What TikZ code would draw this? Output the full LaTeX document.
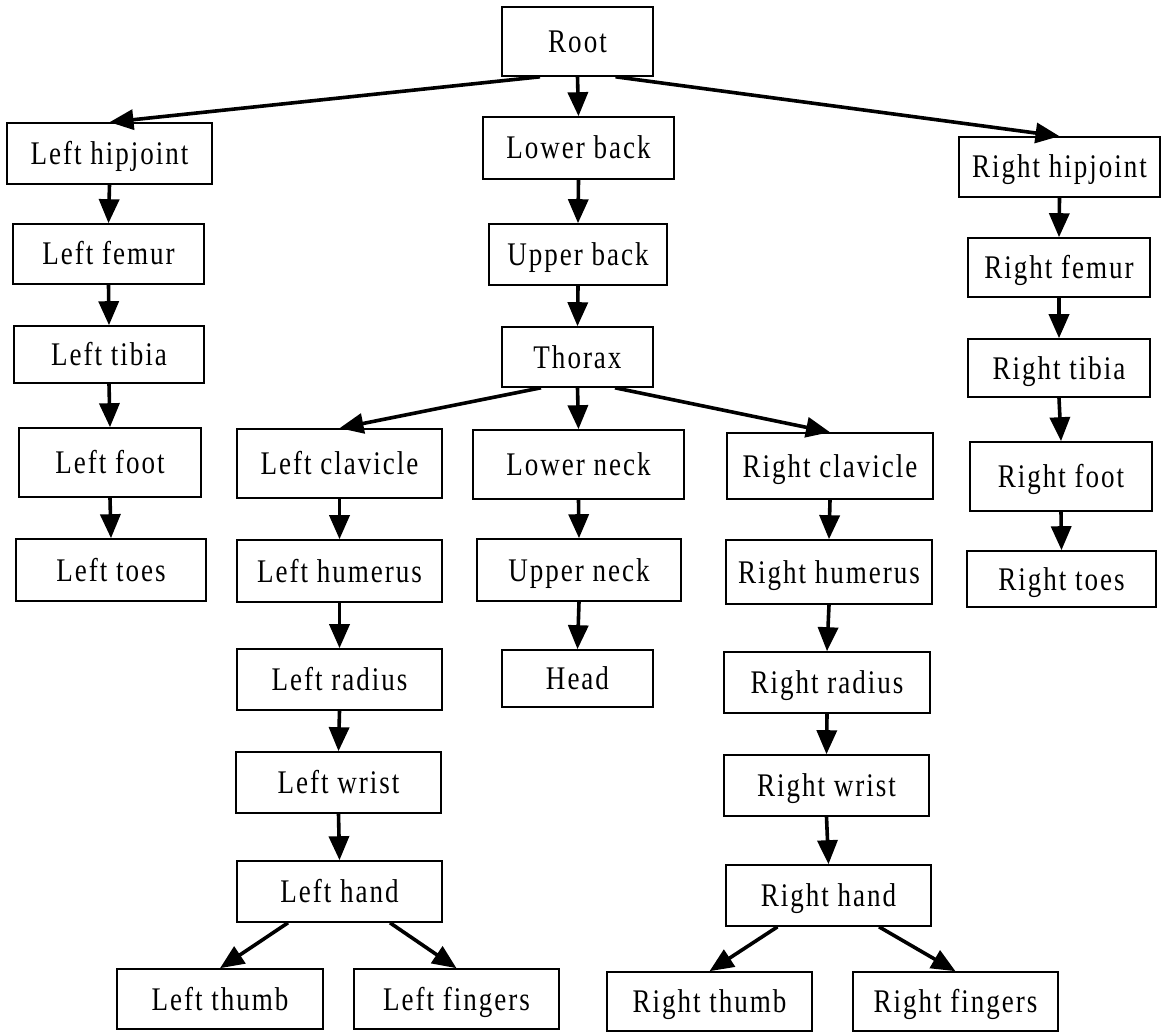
\documentclass[tikz,border=0pt]{standalone}
\usepackage{fontspec}
\setmainfont{Liberation Serif}[FakeStretch=0.82,LetterSpace=6]
\usetikzlibrary{arrows.meta}

% one skeleton segment: name, centre x, centre y, width, height, label
\newcommand\bonebox[6]{%
  \node[bone, minimum width=#4pt, minimum height=#5pt] (#1) at (#2,#3) {#6};}

\begin{document}
\begin{tikzpicture}[x=1pt, y=-1pt,
  bone/.style={draw=black, line width=1.6pt, inner sep=0pt,
               text height=22pt, text depth=0pt,
               font=\fontsize{33}{38}\selectfont, text=black},
  link/.style={line width=3.6pt, -{Triangle[length=24pt,width=20pt]}}
]
\useasboundingbox (0,0) rectangle (1161,1032);

% trunk
\bonebox{root}{577.5}{41.5}{151}{69}{Root}
\bonebox{lback}{578.5}{148}{191}{62}{Lower back}
\bonebox{uback}{578}{254.5}{178}{61}{Upper back}
\bonebox{thorax}{577.5}{357}{151}{60}{Thorax}
\bonebox{lneck}{578.5}{464.5}{211}{69}{Lower neck}
\bonebox{uneck}{579}{570}{204}{62}{Upper neck}
\bonebox{head}{577.5}{678.5}{151}{57}{Head}

% left leg
\bonebox{lhip}{109.5}{153.5}{205}{61}{Left hipjoint}
\bonebox{lfemur}{108.5}{254}{191}{60}{Left femur}
\bonebox{ltibia}{109}{354.5}{190}{57}{Left tibia}
\bonebox{lfoot}{110}{462.5}{182}{69}{Left foot}
\bonebox{ltoes}{111}{570}{190}{62}{Left toes}

% right leg
\bonebox{rhip}{1059.5}{167}{201}{60}{Right hipjoint}
\bonebox{rfemur}{1059}{267.5}{182}{59}{Right femur}
\bonebox{rtibia}{1059}{368}{182}{58}{Right tibia}
\bonebox{rfoot}{1061}{476.5}{182}{69}{Right foot}
\bonebox{rtoes}{1061.5}{579}{189}{56}{Right toes}

% left arm
\bonebox{lclav}{339.5}{463.5}{205}{69}{Left clavicle}
\bonebox{lhum}{339.5}{571}{205}{62}{Left humerus}
\bonebox{lrad}{339.5}{679.5}{205}{61}{Left radius}
\bonebox{lwrist}{338.5}{782.5}{205}{61}{Left wrist}
\bonebox{lhand}{339.5}{891.5}{205}{61}{Left hand}
\bonebox{lthumb}{220}{999}{206}{60}{Left thumb}
\bonebox{lfing}{456.5}{999}{205}{60}{Left fingers}

% right arm
\bonebox{rclav}{830}{466}{206}{66}{Right clavicle}
\bonebox{rhum}{829}{572}{206}{64}{Right humerus}
\bonebox{rrad}{827}{682.5}{206}{61}{Right radius}
\bonebox{rwrist}{826.5}{785.5}{205}{61}{Right wrist}
\bonebox{rhand}{828.5}{895.5}{205}{61}{Right hand}
\bonebox{rthumb}{709.5}{1001.5}{205}{59}{Right thumb}
\bonebox{rfing}{955.5}{1001.5}{205}{59}{Right fingers}

% branching links
\draw[link] ([xshift=-37.5pt]root.south) -- (lhip.north);
\draw[link] (root.south) -- (lback.north);
\draw[link] ([xshift=38pt]root.south) -- (rhip.north);
\draw[link] ([xshift=-36.5pt]thorax.south) -- (lclav.north);
\draw[link] (thorax.south) -- (lneck.north);
\draw[link] ([xshift=37.5pt]thorax.south) -- (rclav.north);
\draw[link] ([xshift=-51.5pt]lhand.south) -- (lthumb.north);
\draw[link] ([xshift=50.5pt]lhand.south) -- (lfing.north);
\draw[link] ([xshift=-51pt]rhand.south) -- (rthumb.north);
\draw[link] ([xshift=50.5pt]rhand.south) -- (rfing.north);

% chains
\foreach \a/\b in {lback/uback, uback/thorax, lneck/uneck, uneck/head,
                   lhip/lfemur, lfemur/ltibia, ltibia/lfoot, lfoot/ltoes,
                   rhip/rfemur, rfemur/rtibia, rtibia/rfoot, rfoot/rtoes,
                   lclav/lhum, lhum/lrad, lrad/lwrist, lwrist/lhand,
                   rclav/rhum, rhum/rrad, rrad/rwrist, rwrist/rhand}
  \draw[link] (\a.south) -- (\b.north);
\end{tikzpicture}
\end{document}
